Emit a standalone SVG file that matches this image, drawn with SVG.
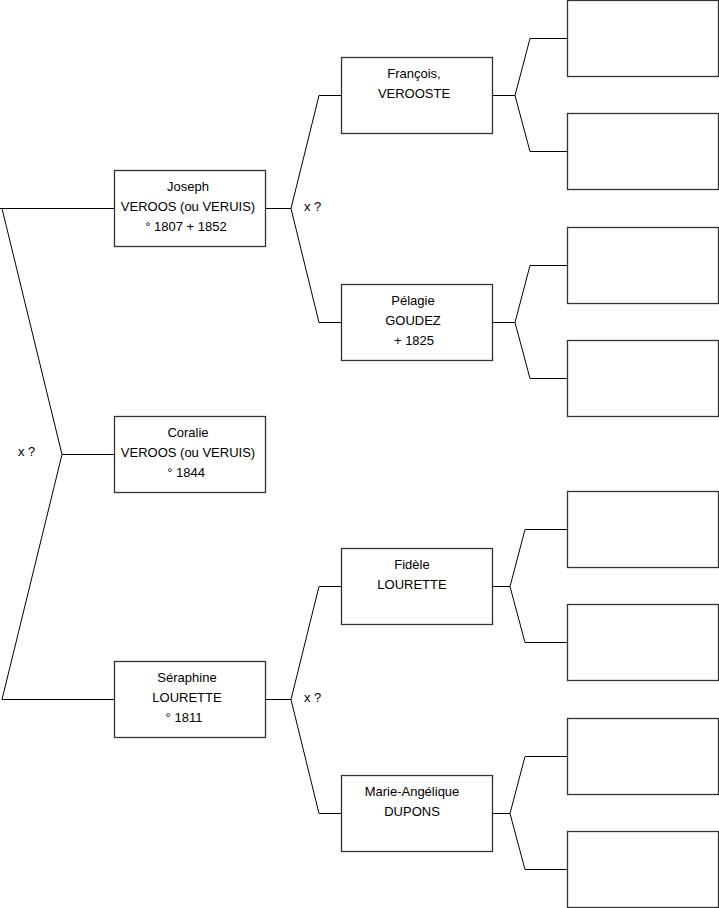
<svg xmlns="http://www.w3.org/2000/svg" width="719" height="908" viewBox="0 0 719 908">
<style>
.box{fill:#fff;stroke:#333;stroke-width:1.3}
.ln{fill:none;stroke:#000;stroke-width:1}
text{font-family:"Liberation Sans",Arial,sans-serif;font-size:13px;fill:#000;text-anchor:middle}
.lbl{text-anchor:start}
</style>
<rect width="719" height="908" fill="#fff"/>
<g id="connectors">
<path class="ln" d="M0,208.5H114.5M2,208.5L62,454.5L2,699.5H114.5M62,454.5H114.5"/>
<path class="ln" d="M265,208.5H291M319,95.5L291,208.5L319,322.5M319,95.5H341M319,322.5H341"/>
<path class="ln" d="M265,699.5H291M319,586.5L291,699.5L319,813.5M319,586.5H341M319,813.5H341"/>
<path class="ln" d="M492,95.5H515M530,38.5L515,95.5L530,151.5M530,38.5H567M530,151.5H567"/>
<path class="ln" d="M492,322.5H515M530,265.5L515,322.5L530,378.5M530,265.5H567M530,378.5H567"/>
<path class="ln" d="M492,586.5H510M525,529.5L510,586.5L525,642.5M525,529.5H567M525,642.5H567"/>
<path class="ln" d="M492,813.5H510M525,756.5L510,813.5L525,869.5M525,756.5H567M525,869.5H567"/>
<text class="lbl" x="18" y="456">x ?</text>
<text class="lbl" x="304" y="211">x ?</text>
<text class="lbl" x="304" y="702">x ?</text>
</g>
<g id="joseph"><rect class="box" x="114.5" y="170.5" width="151" height="76"/><text x="188" y="191">Joseph</text><text x="188" y="211">VEROOS (ou VERUIS)</text><text x="186" y="231">° 1807 + 1852</text></g>
<g id="coralie"><rect class="box" x="114.5" y="416.5" width="151" height="76"/><text x="188" y="437">Coralie</text><text x="188" y="457">VEROOS (ou VERUIS)</text><text x="186" y="477">° 1844</text></g>
<g id="seraphine"><rect class="box" x="114.5" y="661.5" width="151" height="76"/><text x="187" y="682">Séraphine</text><text x="187" y="702">LOURETTE</text><text x="184" y="722">° 1811</text></g>
<g id="francois"><rect class="box" x="341.5" y="57.5" width="151" height="76"/><text x="414" y="78">François,</text><text x="414" y="98">VEROOSTE</text></g>
<g id="pelagie"><rect class="box" x="341.5" y="284.5" width="151" height="76"/><text x="413" y="305">Pélagie</text><text x="413" y="325">GOUDEZ</text><text x="414" y="345">+ 1825</text></g>
<g id="fidele"><rect class="box" x="341.5" y="548.5" width="151" height="76"/><text x="412" y="569">Fidèle</text><text x="412" y="589">LOURETTE</text></g>
<g id="marie"><rect class="box" x="341.5" y="775.5" width="151" height="76"/><text x="412" y="796">Marie-Angélique</text><text x="412" y="816">DUPONS</text></g>
<g id="p1"><rect class="box" x="567.5" y="0.5" width="151" height="76"/></g>
<g id="p2"><rect class="box" x="567.5" y="113.5" width="151" height="76"/></g>
<g id="p3"><rect class="box" x="567.5" y="227.5" width="151" height="76"/></g>
<g id="p4"><rect class="box" x="567.5" y="340.5" width="151" height="76"/></g>
<g id="p5"><rect class="box" x="567.5" y="491.5" width="151" height="76"/></g>
<g id="p6"><rect class="box" x="567.5" y="604.5" width="151" height="76"/></g>
<g id="p7"><rect class="box" x="567.5" y="718.5" width="151" height="76"/></g>
<g id="p8"><rect class="box" x="567.5" y="831.5" width="151" height="76"/></g>
</svg>
